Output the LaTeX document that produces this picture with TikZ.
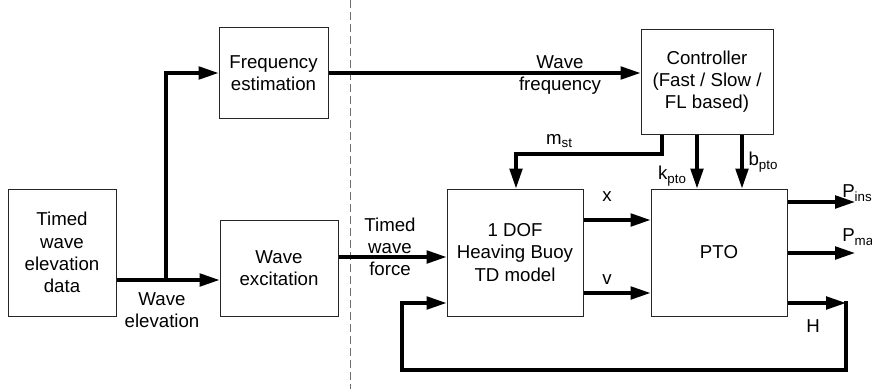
\documentclass[tikz,border=0pt]{standalone}
\usepackage{fontspec}
\setmainfont{Liberation Sans}
\usepackage{xcolor}
\usetikzlibrary{arrows.meta}
\definecolor{ink}{HTML}{000000}
\definecolor{edge}{HTML}{262626}
\definecolor{rule}{HTML}{6E6E6E}
\newcommand{\lowsub}[1]{\raisebox{-0.35ex}{\fontsize{10}{10}\selectfont #1}}
\tikzset{
  block/.style={draw=edge, line width=0.75pt, inner sep=0pt, align=center, font=\fontsize{14}{16.7}\selectfont, text=ink},
  flow/.style={draw=ink, line width=2.5pt, -{Triangle[length=15pt,width=9.5pt]}},
  t/.style={inner sep=0pt, align=center, font=\fontsize{14}{16.7}\selectfont, text=ink},
  tl/.style={t, anchor=west},
  divider/.style={draw=rule, line width=0.75pt, dash pattern=on 6pt off 3pt},
}
\begin{document}
\begin{tikzpicture}[x=0.75pt, y=-0.75pt]
  \useasboundingbox (0,0) rectangle (872,389);
  \draw[divider] (350,0) -- (350,389);

  \node[block, minimum width=81pt, minimum height=95.25pt] (data) at (62,252.5) {Timed\\wave\\elevation\\data};
  \node[block, minimum width=81.75pt, minimum height=68.25pt] (freq) at (273.5,73) {Frequency\\estimation};
  \node[block, minimum width=88.5pt, minimum height=72pt] (excit) at (279,268.5) {Wave\\excitation};
  \node[block, minimum width=99pt, minimum height=78.75pt] (ctrl) at (707,81.5) {Controller\\(Fast / Slow /\\FL based)};
  \node[block, minimum width=102pt, minimum height=95.25pt] (dof) at (515,252.5) {1 DOF\\Heaving Buoy\\TD model};
  \node[block, minimum width=102pt, minimum height=95.25pt] (pto) at (719,252.5) {PTO};

  \coordinate (split) at (166,280);
  \draw[flow] (data.east |- split) -- (excit.west |- split);
  \draw[flow] (split) |- (freq.west);
  \draw[flow] (freq.east) -- (ctrl.west |- freq.east);
  \draw[flow] (excit.east |- 0,257) -- (dof.west |- 0,257);

  \draw[flow] (dof.east |- 0,220) -- (pto.west |- 0,220);
  \draw[flow] (dof.east |- 0,293) -- (pto.west |- 0,293);
  \draw[flow] (ctrl.south -| 662,0) |- (516,154) -- (dof.north -| 516,0);
  \draw[flow] (ctrl.south -| 697,0) -- (pto.north -| 697,0);
  \draw[flow] (ctrl.south -| 742,0) -- (pto.north -| 742,0);

  \coordinate (pins) at (855,202);
  \coordinate (pmax) at (855,253);
  \coordinate (hturn) at (846,303);
  \draw[flow] (pto.east |- pins) -- (pins);
  \draw[flow] (pto.east |- pmax) -- (pmax);
  \draw[flow] (pto.east |- hturn) -- (hturn);
  % feedback of H to the buoy model
  \draw[flow, line cap=rect] (hturn) |- (402,370) |- (dof.west |- hturn);

  \node[t] (elevlab) at (162,310) {Wave\\elevation};
  \node[t] (freqlab) at (560,75) {Wave\\frequency};
  \node[t] (forcelab) at (390,247) {Timed\\wave\\force};
  \node[t] (xlab) at (607,197) {x};
  \node[t] (vlab) at (607,280) {v};
  \node[t] (mlab) at (559,141) {m\lowsub{st}};
  \node[t] (klab) at (672,176) {k\lowsub{pto}};
  \node[t] (blab) at (763,162) {b\lowsub{pto}};
  \node[tl] (pinslab) at (842,193) {P\lowsub{ins}};
  \node[tl] (pmaxlab) at (842,237) {P\lowsub{ma}};
  \node[t] (hlab) at (813,326) {H};
\end{tikzpicture}
\end{document}
